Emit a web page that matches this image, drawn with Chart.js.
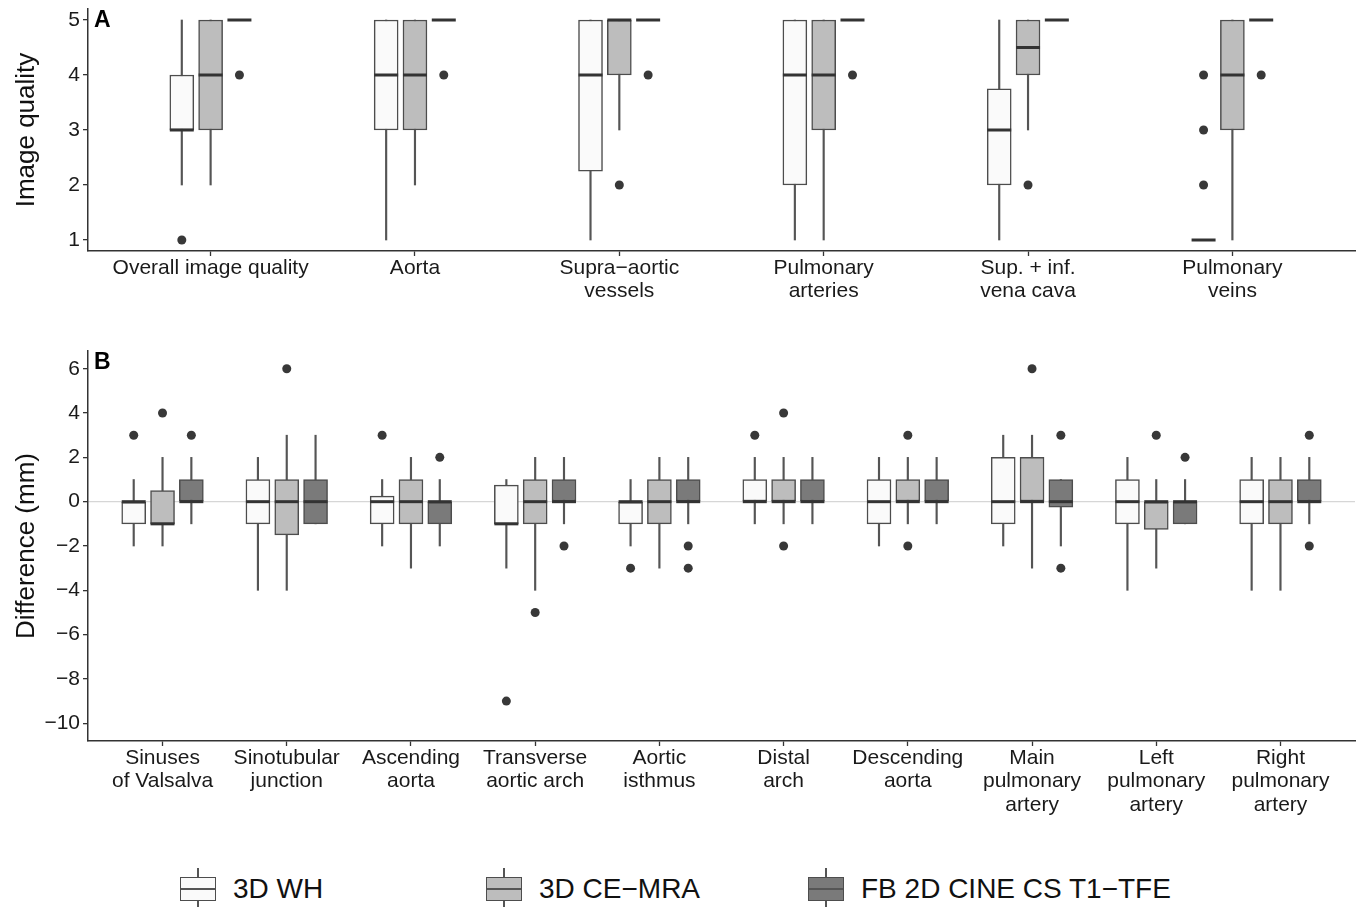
<!DOCTYPE html>
<html>
<head>
<meta charset="utf-8">
<script src="https://cdn.jsdelivr.net/npm/chart.js@4.4.0/dist/chart.umd.min.js"></script>
<style>
  body { margin: 0; background: #fff; font-family: "Liberation Sans", Arial, sans-serif; }
  #page { position: relative; width: 1361px; height: 907px; overflow: hidden; }
  #page canvas { position: absolute; left: 0; }
  #chartA { top: 0; }
  #chartB { top: 330px; }
  .leg { position: absolute; top: 868px; height: 42px; display: flex; align-items: center; font-size: 28px; color: #111; }
  .leg .icon { position: relative; width: 36px; height: 42px; margin-right: 17px; }
  .leg .whisk { position: absolute; left: 17px; top: 0; width: 1.5px; height: 42px; background: #555; }
  .leg .box { position: absolute; left: 0; top: 9px; width: 36px; height: 24px; box-sizing: border-box; border: 1.5px solid #4d4d4d; }
  .leg .med { position: absolute; left: 0; right: 0; top: 9.5px; height: 2px; background: #555; }
</style>
</head>
<body>
<div id="page">
  <canvas id="chartA" width="1361" height="320"></canvas>
  <canvas id="chartB" width="1361" height="500"></canvas>
</div>
<script>
// categories and tick labels
const qualityCategories = [['Overall image quality'], ['Aorta'], ['Supra\u2212aortic', 'vessels'],
  ['Pulmonary', 'arteries'], ['Sup. + inf.', 'vena cava'], ['Pulmonary', 'veins']];
const qualityTicks = [1, 2, 3, 4, 5];
const diffCategories = [['Sinuses', 'of Valsalva'], ['Sinotubular', 'junction'], ['Ascending', 'aorta'],
  ['Transverse', 'aortic arch'], ['Aortic', 'isthmus'], ['Distal', 'arch'], ['Descending', 'aorta'],
  ['Main', 'pulmonary', 'artery'], ['Left', 'pulmonary', 'artery'], ['Right', 'pulmonary', 'artery']];
const diffTicks = [-10, -8, -6, -4, -2, 0, 2, 4, 6];
const seriesNames = ['3D WH', '3D CE\u2212MRA', 'FB 2D CINE CS T1\u2212TFE'];
const seriesColors = ['#fafafa', '#bdbdbd', '#7a7a7a'];

// panel A: [lower whisker, Q1, median, Q3, upper whisker]
const qualityWH = [[2, 3, 3, 4, 5], [1, 3, 4, 5, 5], [1, 2.25, 4, 5, 5], [1, 2, 4, 5, 5], [1, 2, 3, 3.75, 5], [1, 1, 1, 1, 1]];
const qualityWHOut = [[1], [], [], [], [], [2, 3, 4]];
const qualityCE = [[2, 3, 4, 5, 5], [2, 3, 4, 5, 5], [3, 4, 5, 5, 5], [1, 3, 4, 5, 5], [3, 4, 4.5, 5, 5], [1, 3, 4, 5, 5]];
const qualityCEOut = [[], [], [2], [], [2], []];
const qualityFB = [[5, 5, 5, 5, 5], [5, 5, 5, 5, 5], [5, 5, 5, 5, 5], [5, 5, 5, 5, 5], [5, 5, 5, 5, 5], [5, 5, 5, 5, 5]];
const qualityFBOut = [[4], [4], [4], [4], [], [4]];

// panel B
const diffWH = [[-2, -1, 0, 0, 1], [-4, -1, 0, 1, 2], [-2, -1, 0, 0.25, 1], [-3, -1, -1, 0.75, 1], [-2, -1, 0, 0, 1],
  [-1, 0, 0, 1, 2], [-2, -1, 0, 1, 2], [-2, -1, 0, 2, 3], [-4, -1, 0, 1, 2], [-4, -1, 0, 1, 2]];
const diffWHOut = [[3], [], [3], [-9], [-3], [3], [], [], [], []];
const diffCE = [[-2, -1, -1, 0.5, 2], [-4, -1.5, 0, 1, 3], [-3, -1, 0, 1, 2], [-4, -1, 0, 1, 2], [-3, -1, 0, 1, 2],
  [-1, 0, 0, 1, 2], [-1, 0, 0, 1, 2], [-3, 0, 0, 2, 3], [-3, -1.25, 0, 0, 1], [-4, -1, 0, 1, 2]];
const diffCEOut = [[4], [6], [], [-5], [], [4, -2], [3, -2], [6], [3], []];
const diffFB = [[-1, 0, 0, 1, 2], [-1, -1, 0, 1, 3], [-2, -1, 0, 0, 1], [-1, 0, 0, 1, 2], [-1, 0, 0, 1, 2],
  [-1, 0, 0, 1, 2], [-1, 0, 0, 1, 2], [-2, -0.25, 0, 1, 1], [-1, -1, 0, 0, 1], [-1, 0, 0, 1, 2]];
const diffFBOut = [[3], [], [2], [-2], [-2, -3], [], [], [3, -3], [2], [3, -2]];

const FONT = '"Liberation Sans", Arial, sans-serif';

// whiskers, box, median and outliers for one series
function boxDatasets(stats, outliers, s, step) {
  const off = (s - 1) * step;
  const xs = stats.map((r, i) => i + 1 + off);
  return [
    { type: 'bar', data: stats.map((r, i) => ({ x: xs[i], y: [r[0], r[4]] })),
      backgroundColor: '#555', barThickness: 1.5, grouped: false, order: 4 },
    { type: 'bar', label: seriesNames[s], data: stats.map((r, i) => ({ x: xs[i], y: [r[1], r[3]] })),
      backgroundColor: seriesColors[s], borderColor: '#4d4d4d', borderWidth: 1.5, borderSkipped: false,
      barThickness: 24, grouped: false, order: 3 },
    { type: 'scatter', data: stats.map((r, i) => ({ x: xs[i], y: r[2] })),
      pointStyle: 'line', pointRadius: 12, borderColor: '#333', borderWidth: 3, order: 2 },
    { type: 'scatter', data: outliers.flatMap((o, i) => o.map(v => ({ x: xs[i], y: v }))),
      pointRadius: 4.5, backgroundColor: '#383838', borderWidth: 0, order: 1 }
  ];
}

const panelLetter = {
  id: 'panelLetter',
  afterDraw(chart, args, opts) {
    const { ctx, chartArea } = chart;
    ctx.save();
    ctx.font = 'bold 23px ' + FONT;
    ctx.fillStyle = '#000';
    ctx.fillText(opts.text, chartArea.left + 6, chartArea.top + 18);
    ctx.restore();
  }
};

const minus = v => (v < 0 ? '\u2212' + Math.abs(v) : String(v));

function makePanel(id, cats, ticks, yMin, yMax, datasets, letter, title, padTop, xHeight, zeroLine) {
  return new Chart(document.getElementById(id), {
    type: 'bar',
    data: { datasets },
    plugins: [panelLetter],
    options: {
      responsive: false,
      animation: false,
      events: [],
      layout: { autoPadding: false, padding: { top: padTop, left: 0, right: 6, bottom: 0 } },
      plugins: { legend: { display: false }, tooltip: { enabled: false }, panelLetter: { text: letter } },
      scales: {
        x: {
          type: 'linear', min: 0.4, max: cats.length + 0.6, offset: false,
          afterBuildTicks: axis => { axis.ticks = cats.map((c, i) => ({ value: i + 1 })); },
          afterFit: axis => { axis.height = xHeight; axis.paddingLeft = 0; axis.paddingRight = 0; },
          grid: { display: true, offset: false, drawOnChartArea: false, tickLength: 5, tickColor: '#333', tickWidth: 1.3 },
          border: { display: true, color: '#333', width: 1.5 },
          ticks: { autoSkip: false, maxRotation: 0, minRotation: 0, padding: 1, color: '#1a1a1a',
            font: { family: FONT, size: 21, lineHeight: 1.1 },
            callback: v => cats[v - 1] }
        },
        y: {
          type: 'linear', min: yMin, max: yMax,
          afterBuildTicks: axis => { axis.ticks = ticks.map(v => ({ value: v })); },
          afterFit: axis => { axis.width = 88; axis.paddingTop = 0; axis.paddingBottom = 0; },
          grid: {
            display: true, drawOnChartArea: zeroLine, tickLength: 5, tickColor: '#333', tickWidth: 1.3, lineWidth: 1.3,
            color: c => (c.tick && c.tick.value === 0 ? '#d6d6d6' : 'rgba(0,0,0,0)')
          },
          border: { display: true, color: '#333', width: 1.5 },
          ticks: { padding: 3, color: '#1a1a1a', font: { family: FONT, size: 21 }, callback: v => minus(v) },
          title: { display: true, text: title, color: '#111', padding: { top: 11, bottom: 0 },
            font: { family: FONT, size: 26 } }
        }
      }
    }
  });
}

const stepA = 0.141;
makePanel('chartA', qualityCategories, qualityTicks, 0.8, 5.2, [
  ...boxDatasets(qualityWH, qualityWHOut, 0, stepA),
  ...boxDatasets(qualityCE, qualityCEOut, 1, stepA),
  ...boxDatasets(qualityFB, qualityFBOut, 2, stepA)
], 'A', 'Image quality', 9, 69, false);

const stepB = 0.232;
makePanel('chartB', diffCategories, diffTicks, -10.8, 6.8, [
  ...boxDatasets(diffWH, diffWHOut, 0, stepB),
  ...boxDatasets(diffCE, diffCEOut, 1, stepB),
  ...boxDatasets(diffFB, diffFBOut, 2, stepB)
], 'B', 'Difference (mm)', 21, 89, true);

// legend
const legendLeft = [180, 486, 808];
const page = document.getElementById('page');
seriesNames.forEach((name, s) => {
  const item = document.createElement('div');
  item.className = 'leg';
  item.style.left = legendLeft[s] + 'px';
  item.innerHTML = '<div class="icon"><span class="whisk"></span><span class="box" style="background:' +
    seriesColors[s] + '"><span class="med"></span></span></div><span></span>';
  item.lastChild.textContent = name;
  page.appendChild(item);
});
</script>
</body>
</html>
